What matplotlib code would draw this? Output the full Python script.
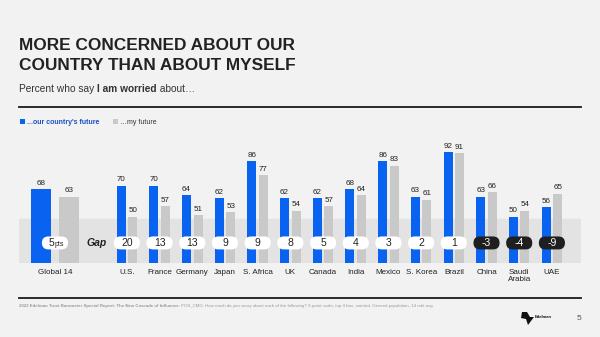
import matplotlib.pyplot as plt
from matplotlib.patches import FancyBboxPatch, Rectangle, Polygon

plt.rcParams['font.family'] = ['Liberation Sans', 'DejaVu Sans']

countries = ['Global 14', 'U.S.', 'France', 'Germany', 'Japan', 'S. Africa', 'UK',
             'Canada', 'India', 'Mexico', 'S. Korea', 'Brazil', 'China',
             'Saudi\nArabia', 'UAE']
country_future = [68, 70, 70, 64, 62, 86, 62, 62, 68, 86, 63, 92, 63, 50, 56]
my_future = [63, 50, 57, 51, 53, 77, 54, 57, 64, 83, 61, 91, 66, 54, 65]
gaps = [c - m for c, m in zip(country_future, my_future)]

BLUE = '#0a63f0'
GRAY = '#c9c9c9'
BG = '#f2f2f2'
DARK = '#222222'

W, H = 600, 337
fig = plt.figure(figsize=(6, 3.37), dpi=100, facecolor=BG)

# axes placed by pixel
ax = fig.add_axes([19 / W, (H - 263) / H, 562 / W, (263 - 139.5) / H])
ax.set_facecolor(BG)
ax.set_xlim(-1.1, 16.09)
ax.set_ylim(20, 100)
for s in ax.spines.values():
    s.set_visible(False)
ax.set_yticks([])

xs = [0] + [2.2 + i for i in range(len(countries) - 1)]

ax.axhspan(20, 48.5, color='#e3e3e3', zorder=0)

for i, x in enumerate(xs):
    if i == 0:
        w, off = 0.61, 0.43
    else:
        w, off = 0.275, 0.176
    ax.bar(x - off, country_future[i], w, color=BLUE, zorder=2)
    ax.bar(x + off, my_future[i], w, color=GRAY, zorder=2)
    ax.text(x - off, country_future[i] + 1.5, str(country_future[i]), ha='center',
            va='bottom', fontsize=5.8, color=DARK)
    ax.text(x + off, my_future[i] + 1.5, str(my_future[i]), ha='center',
            va='bottom', fontsize=5.8, color=DARK)

    # gap pill
    neg = gaps[i] < 0
    pw, ph = 0.8, 8.4
    asp = 32.7 / 1.545
    pill = FancyBboxPatch((x - pw / 2, 33 - ph / 2), pw, ph,
                          boxstyle='round,pad=0,rounding_size=0.2',
                          mutation_aspect=asp, facecolor='#1f1f1f' if neg else 'white',
                          edgecolor='none', zorder=3)
    ax.add_patch(pill)
    if i == 0:
        ax.text(x - 0.02, 33, '5', ha='right', va='center', fontsize=7.5,
                color=DARK, zorder=4)
        ax.text(x - 0.02, 32, 'pts', ha='left', va='center', fontsize=5,
                color=DARK, zorder=4)
    else:
        ax.text(x, 33, str(gaps[i]), ha='center', va='center', fontsize=7.5,
                color='white' if neg else DARK, zorder=4)

ax.text(1.285, 33, 'Gap', ha='center', va='center', fontsize=7.5,
        fontweight='bold', style='italic', color=DARK)

ax.set_xticks(xs)
ax.set_xticklabels(countries, fontsize=5.8, color=DARK, linespacing=1.0)
ax.tick_params(axis='x', length=0, pad=4)

# title and subtitle
fig.text(19 / W, 1 - 50.5 / H, 'MORE CONCERNED ABOUT OUR', ha='left', va='baseline',
         fontsize=12.4, fontweight='bold', color=DARK)
fig.text(19 / W, 1 - 70.5 / H, 'COUNTRY THAN ABOUT MYSELF', ha='left', va='baseline',
         fontsize=12.4, fontweight='bold', color=DARK)

fig.canvas.draw()
r = fig.canvas.get_renderer()
x0 = 19 / W
ys = 1 - 92 / H
for txt, wt in [('Percent who say ', 'normal'), ('I am worried', 'bold'), (' about…', 'normal')]:
    t = fig.text(x0, ys, txt, ha='left', va='baseline', fontsize=7.3,
                 fontweight=wt, color='#333333')
    bb = t.get_window_extent(r)
    x0 += bb.width / W

fig.add_artist(plt.Line2D([19 / W, 581 / W], [1 - 106.5 / H] * 2,
                          color='#1a1a1a', lw=1.3))

# legend
fig.add_artist(Rectangle((20 / W, 1 - 124.5 / H), 5 / W, 5 / H, transform=fig.transFigure,
                         facecolor=BLUE, edgecolor='none'))
fig.text(27.5 / W, 1 - 122 / H, '...our country\'s future', ha='left', va='center',
         fontsize=5, color='#1a50c0', fontweight='bold')
fig.add_artist(Rectangle((113 / W, 1 - 124.5 / H), 5 / W, 5 / H, transform=fig.transFigure,
                         facecolor=GRAY, edgecolor='none'))
fig.text(120 / W, 1 - 122 / H, '…my future', ha='left', va='center',
         fontsize=5, color='#333333')

# footer
fig.add_artist(plt.Line2D([19 / W, 581 / W], [1 - 297.5 / H] * 2,
                          color='#1a1a1a', lw=1.3))
fig.canvas.draw()
fx = 19 / W
for txt, wt in [('2022 Edelman Trust Barometer Special Report: The New Cascade of Influence. ', 'bold'),
                ('POS_CMG. How much do you worry about each of the following? 9-point scale; top 4 box, '
                 'worried. General population, 14 mkt avg.', 'normal')]:
    t = fig.text(fx, 1 - 306 / H, txt, ha='left', va='center', fontsize=3.2,
                 fontweight=wt, color='#9a9a9a')
    fx += t.get_window_extent(r).width / W

fig.add_artist(Polygon([(522 / W, 1 - 312 / H), (527 / W, 1 - 312 / H), (530 / W, 1 - 317 / H),
                        (534 / W, 1 - 317 / H), (528 / W, 1 - 325 / H), (526 / W, 1 - 319 / H),
                        (521 / W, 1 - 318 / H)],
                       closed=True, transform=fig.transFigure, facecolor='#111111',
                       edgecolor='none'))
fig.text(535 / W, 1 - 317 / H, 'Edelman', ha='left', va='center', fontsize=3,
         fontweight='bold', color='#111111')
fig.text(579 / W, 1 - 318 / H, '5', ha='center', va='center', fontsize=6, color='#555555')

fig.savefig('out.png', dpi=100, facecolor=BG)
